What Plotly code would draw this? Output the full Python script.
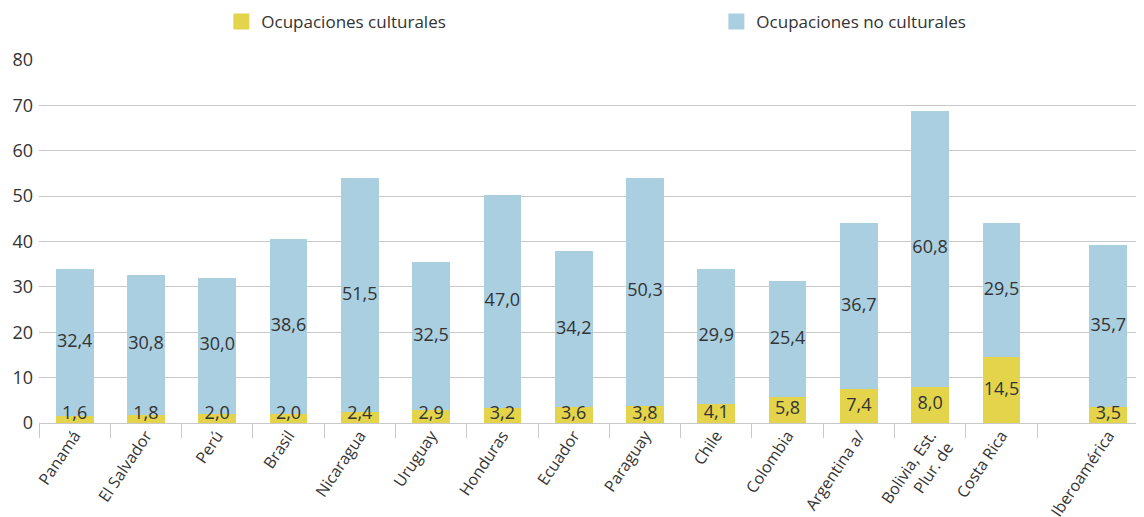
import plotly.graph_objects as go

categories = ["Panamá", "El Salvador", "Perú", "Brasil", "Nicaragua", "Uruguay", "Honduras",
              "Ecuador", "Paraguay", "Chile", "Colombia", "Argentina a/",
              "Bolivia, Est.<br>Plur. de", "Costa Rica", "Iberoamérica"]
positions = [0, 1, 2, 3, 4, 5, 6, 7, 8, 9, 10, 11, 12, 13, 14.5]
culturales = [1.6, 1.8, 2.0, 2.0, 2.4, 2.9, 3.2, 3.6, 3.8, 4.1, 5.8, 7.4, 8.0, 14.5, 3.5]
no_culturales = [32.4, 30.8, 30.0, 38.6, 51.5, 32.5, 47.0, 34.2, 50.3, 29.9, 25.4, 36.7, 60.8, 29.5, 35.7]
boundaries = [-0.5, 0.5, 1.5, 2.5, 3.5, 4.5, 5.5, 6.5, 7.5, 8.5, 9.5, 10.5, 11.5, 12.5, 13.5]

def fmt(v):
    return f"{v:.1f}".replace(".", ",")

FONT = "Open Sans"
TXT = "#333333"
YELLOW = "#E4D44C"
BLUE = "#AACFE0"

fig = go.Figure()
fig.add_trace(go.Bar(
    x=positions, y=culturales, name="Ocupaciones culturales",
    marker=dict(color=YELLOW, line=dict(width=0)), width=0.53,
    showlegend=False, hoverinfo="skip",
))
fig.add_trace(go.Bar(
    x=positions, y=no_culturales, name="Ocupaciones no culturales",
    marker=dict(color=BLUE, line=dict(width=0)), width=0.53,
    showlegend=False, hoverinfo="skip",
))

# legend entries with large square swatches
fig.add_trace(go.Scatter(
    x=[None], y=[None], mode="markers", name="Ocupaciones culturales",
    marker=dict(symbol="square", size=19, color=YELLOW), legend="legend",
))
fig.add_trace(go.Scatter(
    x=[None], y=[None], mode="markers", name="Ocupaciones no culturales",
    marker=dict(symbol="square", size=19, color=BLUE), legend="legend2",
))

# value labels centred in each segment (kept clear of the axis for thin segments)
cult_y = [max(c / 2, 1.9) for c in culturales]
nocult_y = [c + n / 2 for c, n in zip(culturales, no_culturales)]
fig.add_trace(go.Scatter(
    x=positions, y=cult_y, mode="text", text=[fmt(v) for v in culturales],
    textposition="middle center", textfont=dict(size=18, color=TXT, family=FONT),
    showlegend=False, cliponaxis=False, hoverinfo="skip",
))
fig.add_trace(go.Scatter(
    x=positions, y=nocult_y, mode="text", text=[fmt(v) for v in no_culturales],
    textposition="middle center", textfont=dict(size=18, color=TXT, family=FONT),
    showlegend=False, cliponaxis=False, hoverinfo="skip",
))

fig.update_layout(
    barmode="stack",
    width=1144, height=517,
    margin=dict(l=31, r=8, t=52, b=102, autoexpand=False),
    paper_bgcolor="white", plot_bgcolor="white",
    font=dict(family=FONT, size=17, color=TXT),
    legend=dict(orientation="h", x=0.165, y=1.105, xanchor="left", yanchor="middle",
                font=dict(size=17, color=TXT), itemclick=False, bgcolor="rgba(0,0,0,0)",
                itemsizing="trace"),
    legend2=dict(orientation="h", x=0.613, y=1.105, xanchor="left", yanchor="middle",
                 font=dict(size=17, color=TXT), itemclick=False, bgcolor="rgba(0,0,0,0)",
                 itemsizing="trace"),
    xaxis=dict(
        range=[-0.5, 15.0], automargin=False,
        tickmode="array", tickvals=positions, ticktext=categories,
        tickangle=-56, ticks="", showgrid=False, zeroline=False,
        showline=True, linecolor="#c8c8c8", linewidth=1,
        tickfont=dict(size=16, color=TXT), ticklabelstandoff=-4,
        minor=dict(tickmode="array", tickvals=boundaries, ticks="outside",
                   ticklen=14, tickcolor="#c8c8c8", tickwidth=1, showgrid=False),
    ),
    yaxis=dict(
        range=[0, 80], tickvals=[0, 10, 20, 30, 40, 50, 60, 70, 80], automargin=False,
        showgrid=True, gridcolor="#c8c8c8", gridwidth=1,
        zeroline=False, showline=False, ticks="", ticklen=0,
        tickfont=dict(size=18, color=TXT), ticklabelstandoff=5,
    ),
)

fig.write_html("out.html")
